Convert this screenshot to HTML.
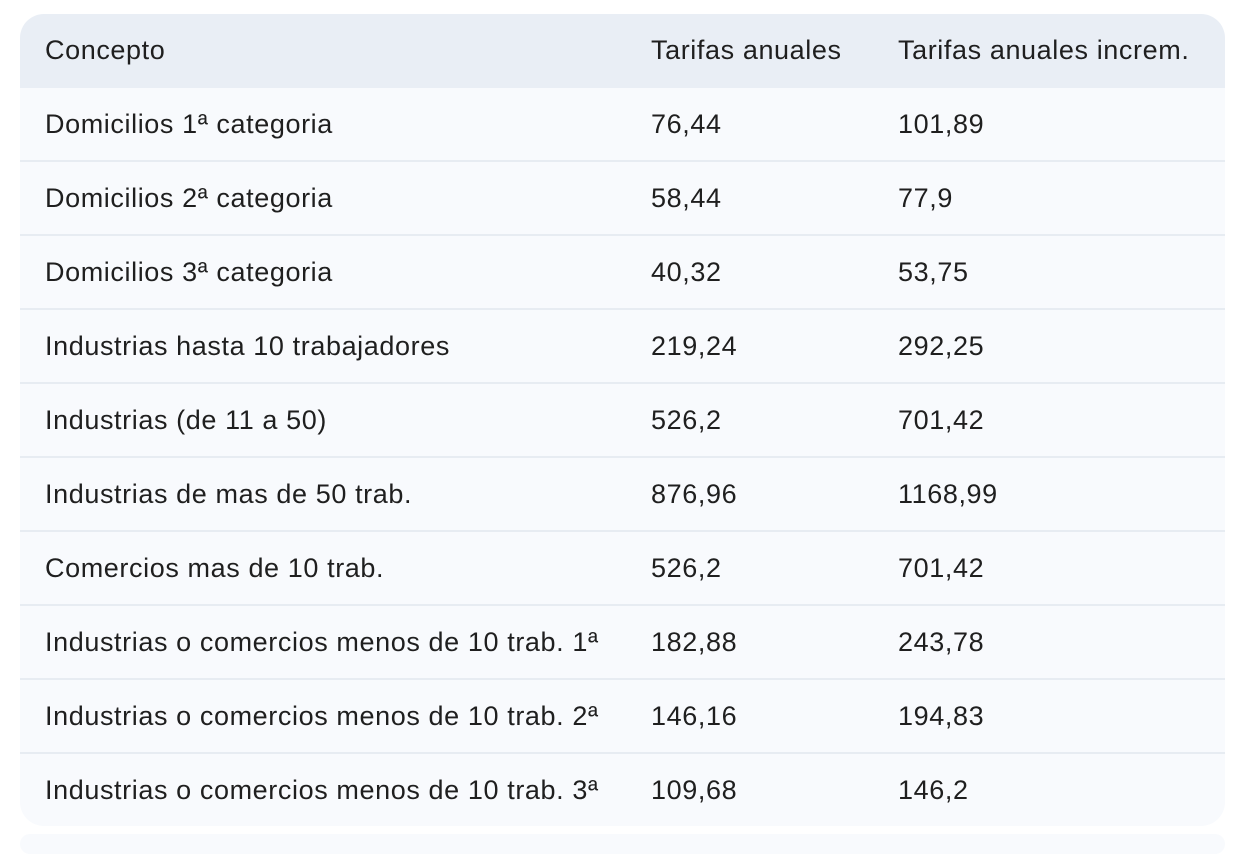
<!DOCTYPE html>
<html><head><meta charset="utf-8"><style>
body{margin:0;width:1242px;height:840px;background:#fff;font-family:"Liberation Sans",sans-serif;color:#1f1f1f;position:relative;overflow:hidden}
.t{position:absolute;left:20px;top:14px;width:1205px;height:812px;background:#f8fafd;border-radius:24px;overflow:hidden}
.h{position:absolute;left:0;top:0;width:100%;height:74px;background:#e9eef5}
.r{position:absolute;left:0;width:100%;height:74px;border-top:2px solid #e7ecf2;box-sizing:border-box}
.c{position:absolute;top:0;line-height:72px;font-size:27px;letter-spacing:0.6px;white-space:nowrap}
.h .c{line-height:72px}
.a{left:25px}.b{left:631px}.d{left:878px}
.s{position:absolute;left:20px;top:834px;width:1205px;height:20px;background:#f8fafd;border-radius:14px}
</style></head><body>
<div class="t">
<div class="h"><span class="c a">Concepto</span><span class="c b">Tarifas anuales</span><span class="c d">Tarifas anuales increm.</span></div>
<div class="r" style="top:74px;border-top:none"><span class="c a">Domicilios 1ª categoria</span><span class="c b">76,44</span><span class="c d">101,89</span></div>
<div class="r" style="top:146px"><span class="c a">Domicilios 2ª categoria</span><span class="c b">58,44</span><span class="c d">77,9</span></div>
<div class="r" style="top:220px"><span class="c a">Domicilios 3ª categoria</span><span class="c b">40,32</span><span class="c d">53,75</span></div>
<div class="r" style="top:294px"><span class="c a">Industrias hasta 10 trabajadores</span><span class="c b">219,24</span><span class="c d">292,25</span></div>
<div class="r" style="top:368px"><span class="c a">Industrias (de 11 a 50)</span><span class="c b">526,2</span><span class="c d">701,42</span></div>
<div class="r" style="top:442px"><span class="c a">Industrias de mas de 50 trab.</span><span class="c b">876,96</span><span class="c d">1168,99</span></div>
<div class="r" style="top:516px"><span class="c a">Comercios mas de 10 trab.</span><span class="c b">526,2</span><span class="c d">701,42</span></div>
<div class="r" style="top:590px"><span class="c a">Industrias o comercios menos de 10 trab. 1ª</span><span class="c b">182,88</span><span class="c d">243,78</span></div>
<div class="r" style="top:664px"><span class="c a">Industrias o comercios menos de 10 trab. 2ª</span><span class="c b">146,16</span><span class="c d">194,83</span></div>
<div class="r" style="top:738px"><span class="c a">Industrias o comercios menos de 10 trab. 3ª</span><span class="c b">109,68</span><span class="c d">146,2</span></div>
</div>
<div class="s"></div>
</body></html>
